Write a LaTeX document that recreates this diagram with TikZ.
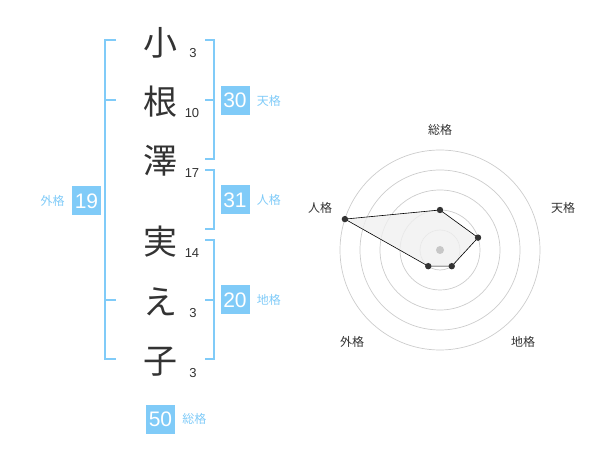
\documentclass[tikz,border=0pt]{standalone}
\usepackage{fontspec}
\setmainfont{Liberation Sans}
\newfontfamily\jpfont{Noto Sans CJK JP}
\usetikzlibrary{positioning}

\definecolor{kakublue}{HTML}{80CBF8}
\definecolor{inkgray}{HTML}{333333}

\begin{document}
\begin{tikzpicture}[
x=1pt, y=-1pt,
kanji/.style={
  text=inkgray,
  font=\jpfont\fontsize{34}{34}\selectfont,
  inner sep=0pt
  },
strokes/.style={
  text=inkgray,
  font=\fontsize{13}{13}\selectfont,
  inner sep=0pt
  },
kakubox/.style={
  fill=kakublue,
  text=white,
  minimum size=29pt,
  inner sep=0pt,
  font=\fontsize{21}{21}\selectfont
  },
kakulabel/.style={
  text=kakublue,
  font=\jpfont\fontsize{12}{12}\selectfont,
  inner sep=0pt
  },
bracket/.style={
  draw=kakublue,
  line width=1.6pt
  },
axislabel/.style={
  text=inkgray,
  font=\jpfont\fontsize{12}{12}\selectfont,
  inner sep=0pt
  },
ring/.style={
  draw=black!20,
  line width=0.7pt
  },
dot/.style={
  fill=inkgray,
  draw=none
  }
]
\useasboundingbox (0,0) rectangle (600,470);

% name, one character per line
\node[kanji] (c1) at (160,43) {小};
\node[kanji] (c2) at (160,102) {根};
\node[kanji] (c3) at (160,161) {澤};
\node[kanji] (c4) at (160,242) {実};
\node[kanji] (c5) at (160,302) {え};
\node[kanji] (c6) at (160,362) {子};

\node[strokes] (s1) at (193,53) {3};
\node[strokes] (s2) at (192,113) {10};
\node[strokes] (s3) at (192,173) {17};
\node[strokes] (s4) at (192,253) {14};
\node[strokes] (s5) at (193,313) {3};
\node[strokes] (s6) at (193,373) {3};

% brackets
\draw[bracket] (116,40) -- (105,40) -- (105,359) -- (116,359);
\foreach \ty in {100,300}
  \draw[bracket] (105,\ty) -- (116,\ty);
\draw[bracket] (205,40) -- (214,40) -- (214,159) -- (205,159);
\draw[bracket] (205,100) -- (214,100);
\draw[bracket] (205,170) -- (214,170) -- (214,229) -- (205,229);
\draw[bracket] (205,240) -- (214,240) -- (214,359) -- (205,359);
\draw[bracket] (205,300) -- (214,300);

% scores
\node[kakubox] (ten) at (235,100.5) {30};
\node[kakulabel, right=7pt of ten] (tenl) {天格};
\node[kakubox] (jin) at (235,200) {31};
\node[kakulabel, right=7pt of jin] (jinl) {人格};
\node[kakubox] (chi) at (235,300) {20};
\node[kakulabel, right=7pt of chi] (chil) {地格};
\node[kakubox] (gai) at (86.5,201) {19};
\node[kakulabel, left=7pt of gai] (gail) {外格};
\node[kakubox] (sou) at (160.5,419) {50};
\node[kakulabel, right=7pt of sou] (soul) {総格};

% radar chart
\begin{scope}[shift={(440,250)}]
\foreach \r in {20,40,...,100}
  \draw[ring] (0,0) circle[radius=\r];
\coordinate (p1) at (-90:40);
\coordinate (p2) at (-18:40);
\coordinate (p3) at (54:20);
\coordinate (p4) at (126:20);
\coordinate (p5) at (198:100);
\draw[fill=black!6, fill opacity=0.8, line width=0.6pt]
  (p1) -- (p2) -- (p3) -- (p4) -- (p5) -- cycle;
\fill[black!22] (0,0) circle[radius=4];
\foreach \p in {p1,p2,p3,p4,p5}
  \fill[dot] (\p) circle[radius=3.2];
\end{scope}
\node[axislabel] (ax1) at (440,130) {総格};
\node[axislabel] (ax2) at (563,208) {天格};
\node[axislabel] (ax3) at (523,342) {地格};
\node[axislabel] (ax4) at (352,342) {外格};
\node[axislabel] (ax5) at (320,208) {人格};

\end{tikzpicture}
\end{document}
